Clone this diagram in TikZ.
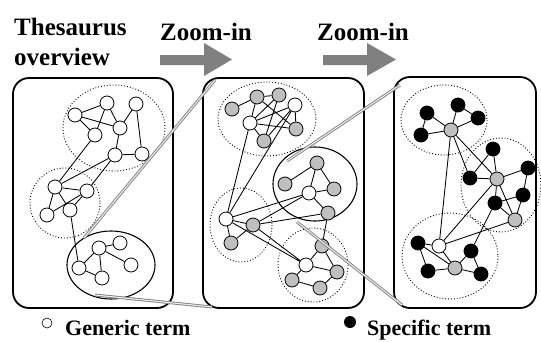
\documentclass[tikz,border=0pt]{standalone}
\usepackage{fontspec}
\setmainfont{Liberation Serif}
\begin{document}
\begin{tikzpicture}[x=1pt,y=-1pt,
  term/.style={circle,draw=black,line width=0.8pt,minimum size=14pt,inner sep=0pt},
  wn/.style={term,fill=white},
  gn/.style={term,fill=gray!50},
  bn/.style={term,fill=black},
  edge/.style={line width=0.85pt},
  panel/.style={draw=black,line width=1.8pt,rounded corners=16pt},
  cluster/.style={draw=black,dotted,line width=0.9pt},
  focus/.style={draw=black,line width=1.1pt},
  zoomline/.style={draw=gray,double=gray!15,double distance=1.1pt,line width=0.9pt},
  bigarrow/.style={fill=gray,draw=none},
  title/.style={anchor=base west,inner sep=0pt,font=\bfseries\fontsize{25}{30}\selectfont},
  legend/.style={anchor=base west,inner sep=0pt,font=\bfseries\fontsize{22}{26}\selectfont}]
\useasboundingbox (0,0) rectangle (541,341);

% headings
\node[title] (t1) at (14,35) {Thesaurus};
\node[title] (t2) at (14,65) {overview};
\node[title] (z1) at (160,40) {Zoom-in};
\node[title] (z2) at (317,40) {Zoom-in};

% block arrows
\fill[bigarrow] (160,55) -- (204,55) -- (204,43) -- (232,59.5) -- (204,76) -- (204,65) -- (160,65) -- cycle;
\fill[bigarrow] (323,55) -- (367,55) -- (367,43) -- (396,59.5) -- (367,76) -- (367,65) -- (323,65) -- cycle;

% panels
\draw[panel] (13,78) rectangle (173,308);
\draw[panel] (203,78) rectangle (364,308);
\draw[panel] (394,77) rectangle (536,308);

% ---------- overview panel ----------
\draw[cluster] (114,128) ellipse [x radius=51,y radius=43];
\draw[cluster] (65,203) ellipse [x radius=35,y radius=35];
\draw[focus] (111,265) ellipse [x radius=44,y radius=34];

\node[wn] (a1) at (75,115) {};
\node[wn] (a2) at (107,103) {};
\node[wn] (a3) at (136,104) {};
\node[wn] (a4) at (95,135) {};
\node[wn] (a5) at (120,128) {};
\node[wn] (a6) at (115,155) {};
\node[wn] (a7) at (142,154) {};
\node[wn] (b1) at (55,187) {};
\node[wn] (b2) at (87,191) {};
\node[wn] (b3) at (47,215) {};
\node[wn] (b4) at (70,210) {};
\node[wn] (c1) at (99,248) {};
\node[wn] (c2) at (120,243) {};
\node[wn] (c3) at (79,268) {};
\node[wn] (c4) at (131,265) {};
\node[wn] (c5) at (102,278) {};

\draw[edge] (a1)--(a2) (a1)--(a5) (a1)--(a4) (a2)--(a4) (a2)--(a5)
  (a3)--(a5) (a3)--(a7) (a5)--(a6) (a6)--(a7)
  (a4)--(b1) (a6)--(b1) (a6)--(b2)
  (b1)--(b2) (b1)--(b3) (b1)--(b4) (b2)--(b3) (b2)--(b4)
  (b4)--(c3)
  (c1)--(c2) (c1)--(c3) (c1)--(c5) (c1)--(c4) (c3)--(c5);

% ---------- middle panel ----------
\draw[cluster] (267,119) ellipse [x radius=49,y radius=37];
\draw[cluster] (241,225) ellipse [x radius=31,y radius=37];
\draw[cluster] (313,265) ellipse [x radius=35,y radius=37];
\draw[focus] (315,184) ellipse [x radius=42,y radius=37];

\node[gn] (d1) at (232,109) {};
\node[gn] (d2) at (257,97) {};
\node[gn] (d3) at (279,95) {};
\node[wn] (d4) at (295,105) {};
\node[wn] (d5) at (250,123) {};
\node[gn] (d6) at (296,129) {};
\node[gn] (d7) at (264,141) {};
\node[wn] (e1) at (226,219) {};
\node[gn] (e2) at (253,225) {};
\node[gn] (e3) at (231,243) {};
\node[gn] (f1) at (317,163) {};
\node[gn] (f2) at (285,184) {};
\node[wn] (f3) at (309,193) {};
\node[gn] (f4) at (334,189) {};
\node[gn] (f5) at (328,213) {};
\node[gn] (g1) at (322,246) {};
\node[wn] (g2) at (306,265) {};
\node[gn] (g3) at (337,272) {};
\node[gn] (g4) at (292,280) {};
\node[gn] (g5) at (320,288) {};

\draw[edge] (d1)--(d2) (d2)--(d3) (d2)--(d5) (d3)--(d5) (d5)--(d4) (d5)--(d6)
  (d5)--(d7) (d4)--(d7) (d4)--(d6) (d2)--(d6) (d3)--(d7)
  (d5)--(e1) (d4)--(e1)
  (e1)--(e2) (e1)--(e3) (e2)--(e3) (e1)--(f3) (e2)--(f3) (e2)--(f5)
  (e1)--(g2) (e2)--(g2)
  (f1)--(f2) (f1)--(f3) (f1)--(f4) (f3)--(f4) (f3)--(f5) (f5)--(g1)
  (g1)--(g2) (g1)--(g3) (g2)--(g3) (g2)--(g4) (g4)--(g5) (g3)--(g5);

% ---------- detail panel ----------
\draw[cluster] (444,120) ellipse [x radius=43,y radius=35];
\draw[cluster] (501,185) ellipse [x radius=40,y radius=47];
\draw[cluster] (450,256) ellipse [x radius=48,y radius=43];

\node[bn] (h1) at (427,113) {};
\node[bn] (h2) at (458,105) {};
\node[bn] (h3) at (478,118) {};
\node[bn] (h4) at (421,135) {};
\node[gn] (h5) at (451,130) {};
\node[bn] (i1) at (493,149) {};
\node[bn] (i2) at (470,178) {};
\node[gn] (i3) at (497,179) {};
\node[bn] (i4) at (528,168) {};
\node[bn] (i5) at (495,203) {};
\node[bn] (i6) at (523,195) {};
\node[gn] (i7) at (515,220) {};
\node[bn] (j1) at (418,243) {};
\node[wn] (j2) at (439,246) {};
\node[bn] (j3) at (471,251) {};
\node[bn] (j4) at (428,271) {};
\node[gn] (j5) at (455,268) {};
\node[bn] (j6) at (481,274) {};

\draw[edge] (h1)--(h5) (h1)--(h4) (h4)--(h5) (h2)--(h5) (h2)--(h3) (h3)--(h5)
  (h5)--(i2) (h5)--(i3) (h5)--(j2)
  (i1)--(i2) (i1)--(i3) (i2)--(i3) (i3)--(i4) (i3)--(i5) (i3)--(i7)
  (i5)--(i6) (i6)--(i7) (i5)--(i7) (i4)--(i6)
  (j2)--(i3) (j2)--(i7) (j3)--(i5)
  (j1)--(j2) (j1)--(j4) (j1)--(j5) (j2)--(j5) (j4)--(j5) (j3)--(j5) (j3)--(j6) (j5)--(j6);

% ---------- zoom projection lines ----------
\coordinate (p1) at (84,238);
\coordinate (q1) at (215,80);
\coordinate (p2) at (95,295);
\coordinate (q2) at (212,307);
\coordinate (p3) at (287,161);
\coordinate (q3) at (400,85);
\coordinate (p4) at (297,222);
\coordinate (q4) at (402,305);
\draw[zoomline] (p1) -- (q1);
\draw[zoomline] (p2) -- (q2);
\draw[zoomline] (p3) -- (q3);
\draw[zoomline] (p4) -- (q4);

% ---------- legend ----------
\node[circle,draw=black,line width=0.6pt,fill=white,minimum size=10pt,inner sep=0pt] (lw) at (47,323) {};
\node[legend] (lwt) at (65,335) {Generic term};
\node[circle,fill=black,minimum size=12pt,inner sep=0pt] (lb) at (350,322) {};
\node[legend] (lbt) at (367,335) {Specific term};
\end{tikzpicture}
\end{document}
